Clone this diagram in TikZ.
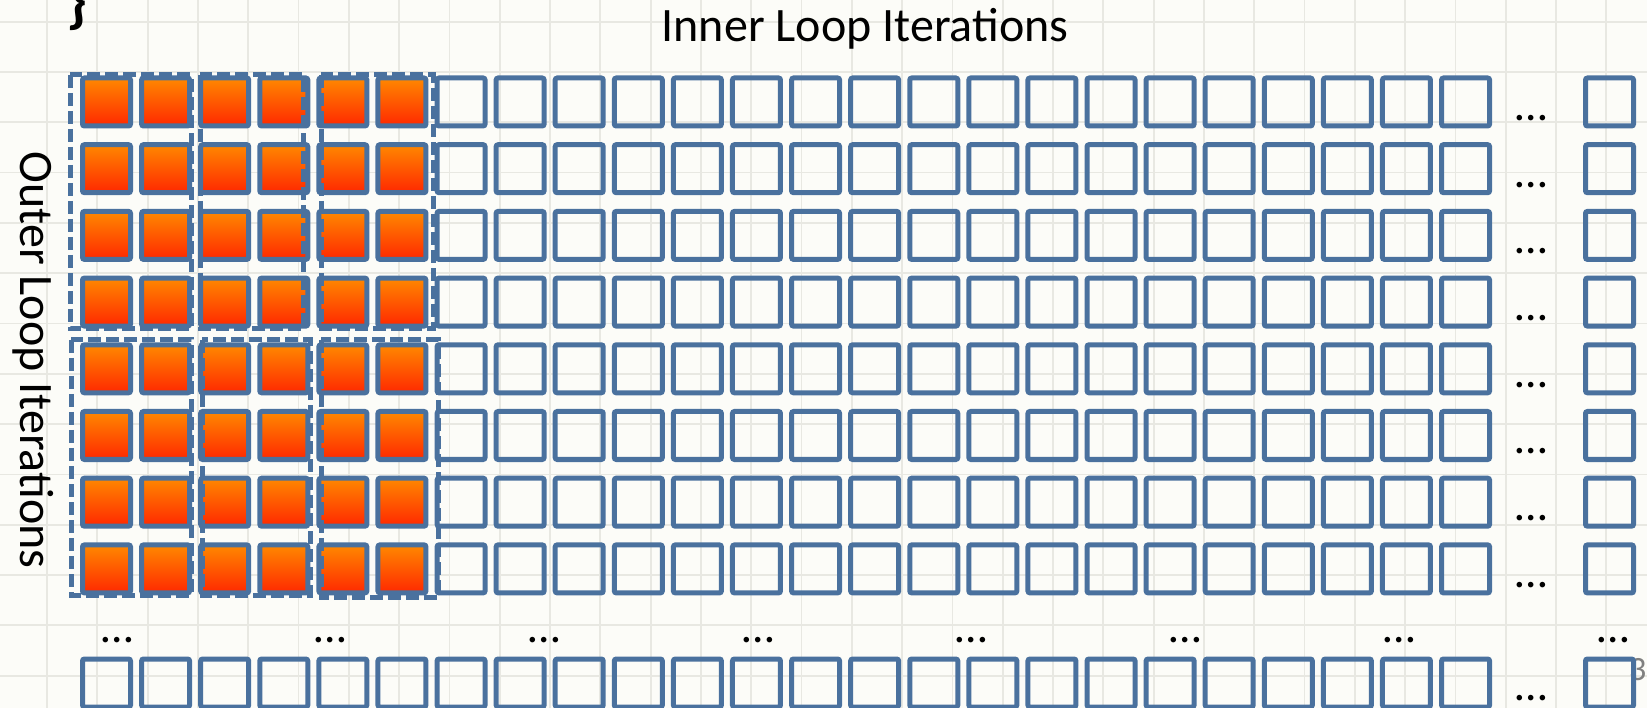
\documentclass[tikz,border=0pt]{standalone}
\usepackage{fontspec}
\setmainfont{Carlito}
\definecolor{cellblue}{RGB}{74,113,158}
\definecolor{hottop}{RGB}{255,136,0}
\definecolor{hotbot}{RGB}{255,40,0}
\definecolor{paper}{RGB}{252,252,248}
\definecolor{gridgray}{RGB}{232,232,226}
\begin{document}
\begin{tikzpicture}[x=1pt,y=-1pt,
  cellbox/.style={draw=cellblue, line width=5pt, rounded corners=2pt,
    minimum size=48pt, inner sep=0pt},
  hot/.style={top color=hottop, bottom color=hotbot},
  dots/.style={inner sep=0pt, font=\fontsize{46}{46}\selectfont},
  lbl/.style={inner sep=0pt, font=\fontsize{48}{56}\selectfont},
  grp/.style={draw=cellblue, line width=5pt, dash pattern=on 13pt off 5pt},
  gridline/.style={draw=gridgray, line width=1.8pt}]
% paper and graph grid
\fill[paper] (0,0) rectangle (1647,708);
\useasboundingbox (0,0) rectangle (1647,708);
\clip (0,0) rectangle (1647,708);
\foreach \i in {0,...,32} \draw[gridline] ({47+50.3*\i},0) -- ++(0,708);
\foreach \j in {0,...,13} \draw[gridline] (0,{21.7+50.3*\j}) -- ++(1647,0);

% labels
\node[lbl, anchor=base] (inner) at (865,42) {Inner Loop Iterations};
\node[lbl, rotate=-90, anchor=base] (outer) at (20,360) {Outer Loop Iterations};
\node[inner sep=0pt, font=\fontsize{62}{62}\selectfont\bfseries] (brace) at (77,3) {\}};
\node[inner sep=0pt, text=gray, font=\fontsize{34}{34}\selectfont, anchor=base west] (pgnum) at (1629,680) {3};

% iteration grid: eight full rows
\foreach \r in {0,...,7} {
  \pgfmathsetmacro\cy{102+66.7*\r}
  \foreach \c in {0,...,23} {
    \pgfmathsetmacro\cx{106.5+59.09*\c}
    \ifnum\c<6
      \node[cellbox, hot] (b-\r-\c) at (\cx,\cy) {};
    \else
      \node[cellbox] (b-\r-\c) at (\cx,\cy) {};
    \fi
  }
  \node[dots] (d-\r) at (1531,\cy+16) {…};
  \node[cellbox] (b-\r-last) at (1609.5,\cy) {};
}

% row of ellipses and the last row
\foreach \k in {0,...,7}
  \node[dots] (v-\k) at ({117+213.7*\k},640) {…};
\foreach \c in {0,...,23}
  \node[cellbox] (z-\c) at ({106.5+59.09*\c},683) {};
\node[dots] (d-z) at (1531,698) {…};
\node[cellbox] (z-last) at (1609.5,683) {};

% tiles of the blocked loops
\draw[grp] (70,75) rectangle (191,329);
\draw[grp] (200,75) rectangle (303,329);
\draw[grp] (321,75) rectangle (433,329);
\draw[grp] (71,340) rectangle (191,595);
\draw[grp] (202,340) rectangle (310,595);
\draw[grp] (321,340) rectangle (438,597);
\end{tikzpicture}
\end{document}
